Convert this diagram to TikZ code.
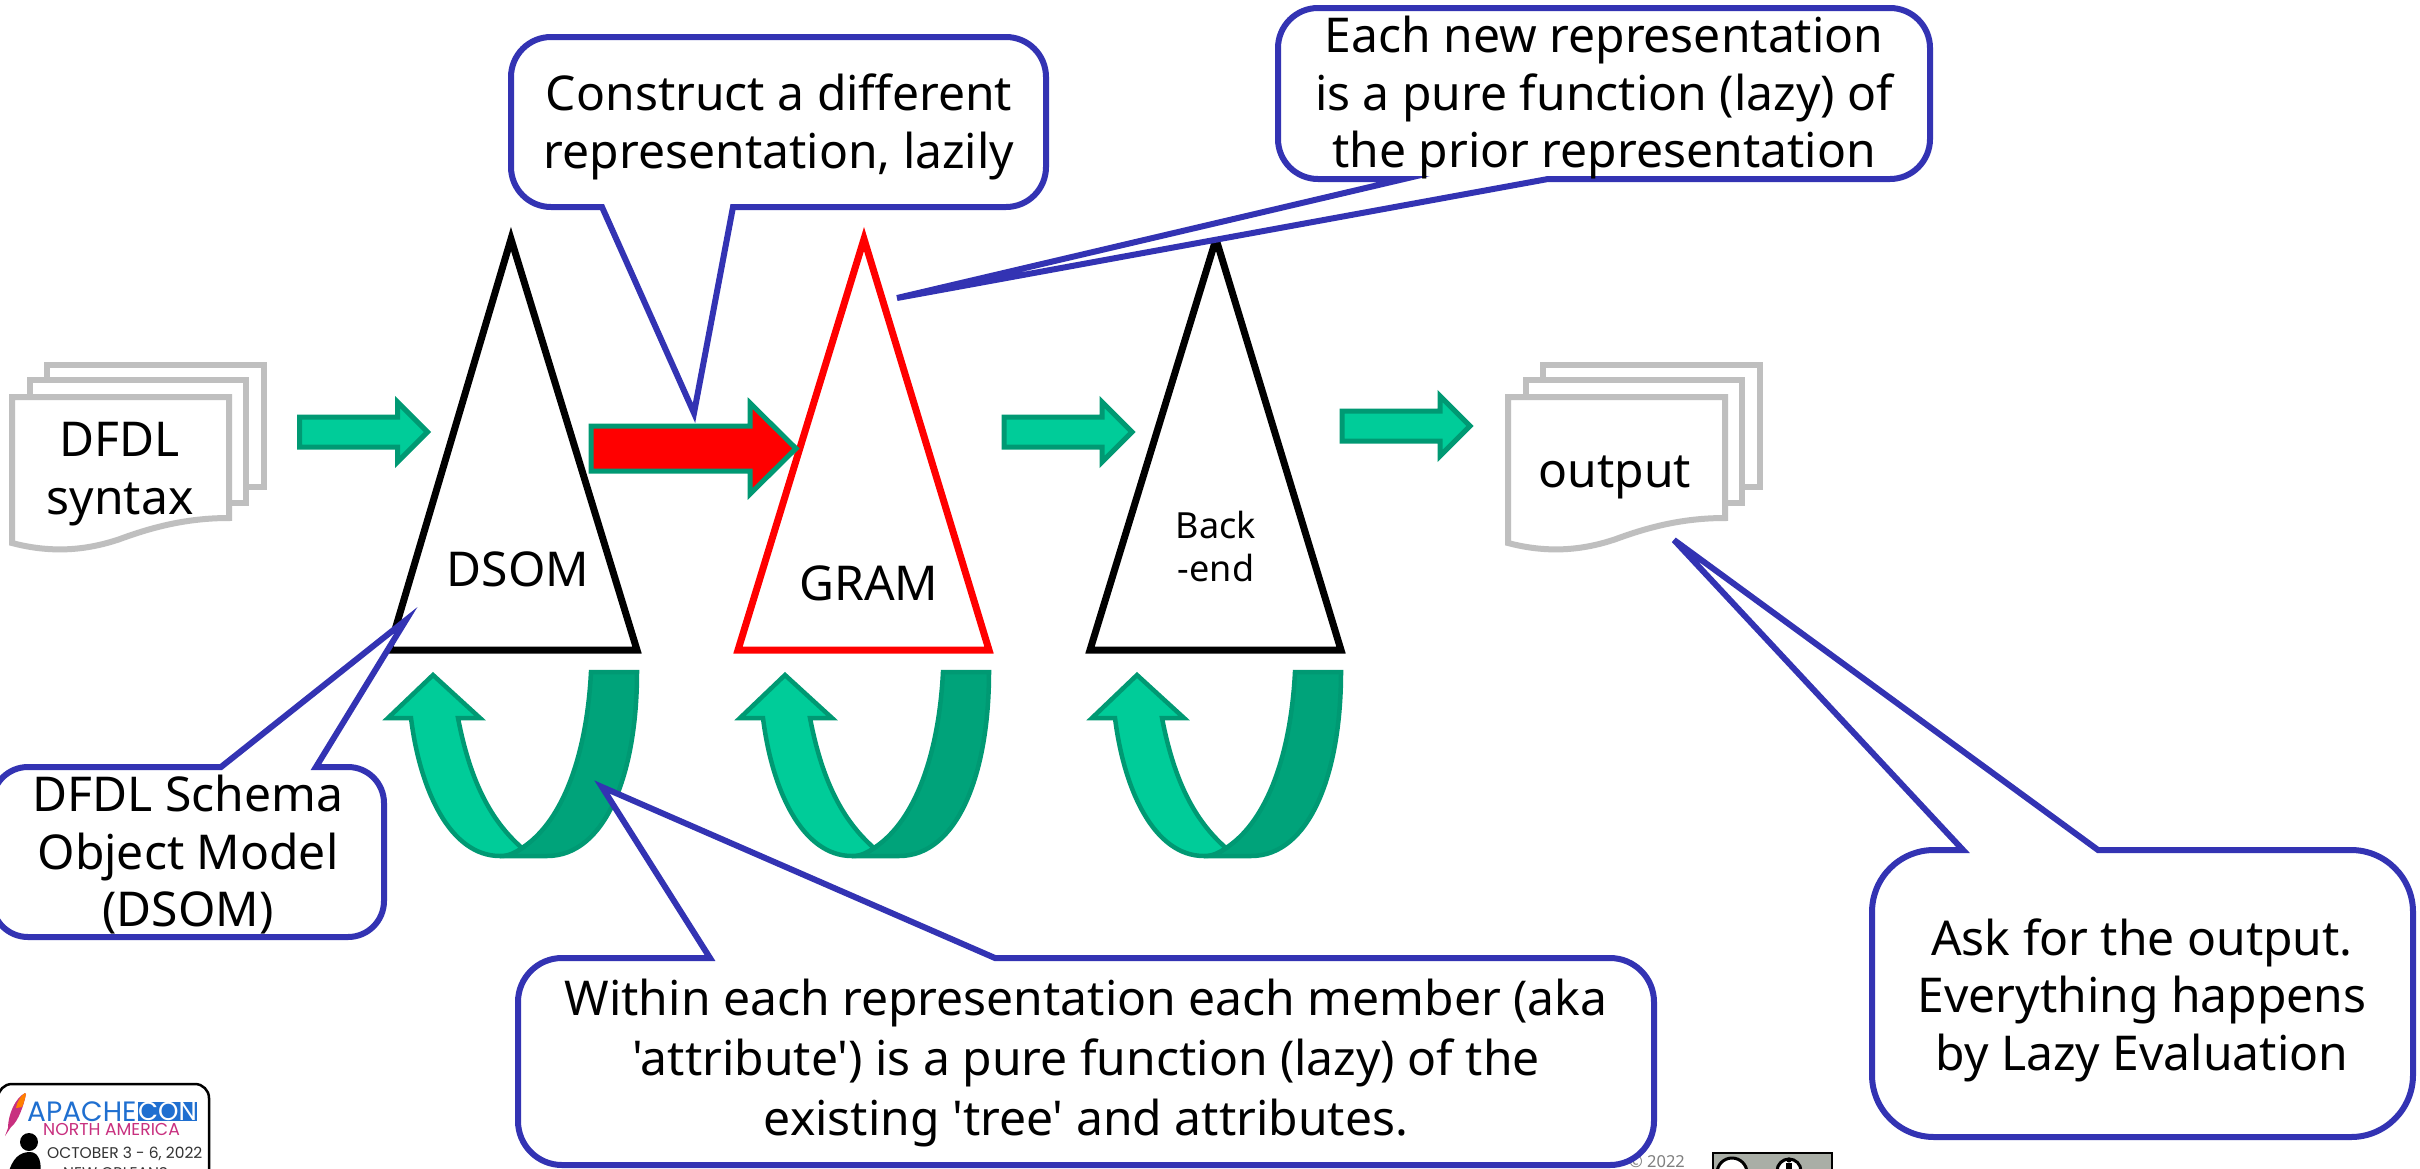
\documentclass[tikz,border=0pt]{standalone}
\usepackage{fontspec}
\setmainfont{Noto Sans}
\newfontfamily\plainfont{Noto Sans}
\newfontfamily\logofont{Poppins}
\definecolor{callblue}{HTML}{3333B3}
\definecolor{sheetgrey}{HTML}{BFBFBF}
\definecolor{lightgreen}{HTML}{00CC99}
\definecolor{darkgreen}{HTML}{00A37A}
\definecolor{edgegreen}{HTML}{009973}
\definecolor{logoblue}{HTML}{1F6FD0}
\definecolor{logopink}{HTML}{C8307F}
\definecolor{ccgrey}{HTML}{A9AEA6}
\tikzset{
  x=1pt,y=-1pt,
  callout/.style={draw=callblue,line width=6pt,fill=white,line join=miter},
  calltext/.style={inner sep=0pt,align=center,font=\plainfont\fontsize{48}{#1}\selectfont},
  tri/.style={line width=7pt,line join=miter,fill=white},
  flow/.style={fill=lightgreen,draw=edgegreen,line width=5pt,line join=miter},
  uturn/.style={draw=edgegreen,line width=4.5pt,line join=miter},
  sheet/.style={draw=sheetgrey,line width=6pt,fill=white,line join=miter},
  bigtext/.style={inner sep=0pt,align=center,font=\plainfont\fontsize{48}{57.5}\selectfont},
  smalltext/.style={inner sep=0pt,align=center,font=\plainfont\fontsize{36}{43}\selectfont},
}
\newcommand{\stack}[1]{%
  \begin{scope}[xshift=#1]
    \draw[sheet] (47,365) rectangle (264,487);
    \draw[sheet] (30,380) rectangle (246,503);
    \draw[sheet] (12,397) -- (229,397) -- (229,518)
      .. controls (185,518) and (150,528) .. (120,539)
      .. controls (85,551) and (50,553) .. (12,543) -- cycle;
  \end{scope}}
\newcommand{\flowarrow}[2]{%
  \draw[flow,#2] (#1) ++(-128,-15) -- ++(98,0) -- ++(0,-15) -- ++(30,30) -- ++(-30,30) -- ++(0,-15) -- ++(-98,0) -- cycle;}
\newcommand{\uarrow}[1]{%
  \begin{scope}[xshift=#1]
    \draw[uturn,fill=darkgreen] (591,672) -- (637,672)
      .. controls (637,775) and (605,856) .. (547,856) -- (500,856)
      .. controls (510,856) and (516,852) .. (522,848)
      .. controls (565,820) and (587,750) .. (591,672) -- cycle;
    \draw[uturn,fill=lightgreen] (433,675) -- (480,718) -- (458,718)
      .. controls (470,780) and (490,820) .. (522,848)
      .. controls (516,852) and (510,856) .. (500,856)
      .. controls (450,856) and (420,790) .. (411,718) -- (388,718) -- cycle;
  \end{scope}}
\begin{document}
\begin{tikzpicture}
\clip (0,0) rectangle (2420,1168);
\fill[white] (0,0) rectangle (2420,1168);

% copyright strip
\node[inner sep=0pt,text=gray,font=\plainfont\fontsize{16.5}{18}\selectfont] (year) at (1657,1162) {\copyright\ 2022};
\draw[black,line width=2pt,fill=ccgrey] (1713,1153) rectangle (1832,1190);
\draw[black,line width=3pt,fill=white] (1732,1173) circle (15);
\draw[black,line width=3pt,fill=white] (1789,1171) circle (12);
\fill[black] (1789,1160) circle (2.5);
\fill[black] (1786,1163) rectangle (1792,1172);

% logo
\draw[black,line width=2.5pt,fill=white,rounded corners=14] (-2,1084) rectangle (209,1200);
\fill[logopink] (25,1093) .. controls (15,1098) and (8,1115) .. (8,1128) -- (5,1136) -- (11,1127) .. controls (18,1122) and (24,1105) .. (26,1094) -- cycle;
\fill[orange] (25,1093) .. controls (21,1095) and (17,1102) .. (16,1108) -- (22,1107) .. controls (24,1103) and (25,1098) .. (26,1094) -- cycle;
\fill[logoblue] (138,1102) rectangle (197,1121);
\node[inner sep=0pt,anchor=base west,text=logoblue,text depth=0pt,font=\logofont\fontsize{28}{30}\selectfont] (apache) at (27,1121) {APACHE};
\node[inner sep=0pt,anchor=base,text=white,text depth=0pt,font=\logofont\fontsize{26}{28}\selectfont] (con) at (167.5,1120) {CON};
\node[inner sep=0pt,anchor=base west,text=logopink,text height=11pt,text depth=0pt,font=\logofont\fontsize{17.2}{18}\selectfont] (north) at (43,1135) {NORTH AMERICA};
\node[inner sep=0pt,anchor=base west,text=black!80,font=\logofont\fontsize{15.5}{18}\selectfont] (october) at (47,1158) {OCTOBER 3 - 6, 2022};
\node[inner sep=0pt,anchor=base west,text=black!80,font=\logofont\fontsize{15.5}{18}\selectfont] (neworleans) at (63,1178) {NEW ORLEANS};
\fill[black] (29,1142) circle (9);
\fill[black] (8,1175) .. controls (12,1158) and (20,1152) .. (30,1152) .. controls (40,1152) and (42,1165) .. (40,1175) -- cycle;

% document stacks
\stack{0pt}
\stack{1496pt}
\node[bigtext] (dfdl) at (120,474) {DFDL\\syntax};
\node[bigtext] (output) at (1615,477) {output};

% triangles
\draw[tri,draw=black] (511,239) -- (637,650) -- (389,650) -- cycle;
\draw[tri,draw=red]   (864,239) -- (989,650) -- (738,650) -- cycle;
\draw[tri,draw=black] (1216,239) -- (1341,650) -- (1090,650) -- cycle;
\node[bigtext] (dsom) at (518,569) {DSOM};
\node[bigtext] (gram) at (869,583) {GRAM};
\node[smalltext] (backend) at (1216,546) {Back\\-end};

% flow arrows
\coordinate (a1) at (427.5,432);
\coordinate (a3) at (1132,432);
\coordinate (a4) at (1470,426);
\flowarrow{a1}{}
\flowarrow{a3}{}
\flowarrow{a4}{}
\draw[flow,fill=red] (591,426) -- (750,426) -- (750,403) -- (796,448.5) -- (750,494) -- (750,471) -- (591,471) -- cycle;

% U arrows
\uarrow{0pt}
\uarrow{352pt}
\uarrow{704pt}

% callouts
\draw[callout] (733,207) [rounded corners=40] -- (1046,207) -- (1046,37) -- (511,37) -- (511,207) [sharp corners] -- (602,207) -- (694,413) -- cycle;
\draw[callout] (1548,179) [rounded corners=40] -- (1930,179) -- (1930,8) -- (1278,8) -- (1278,179) [sharp corners] -- (1404,179) -- (897,298) -- cycle;
\draw[callout] (316,767) [rounded corners=36] -- (384,767) -- (384,937) -- (-8,937) -- (-8,767) [sharp corners] -- (221,767) -- (406,620) -- cycle;
\draw[callout] (995,958) [rounded corners=44] -- (1654,958) -- (1654,1165) -- (518,1165) -- (518,958) [sharp corners] -- (710,958) -- (602,787) -- cycle;
\draw[callout] (2098,850) [rounded corners=62] -- (2413,850) -- (2413,1137) -- (1872,1137) -- (1872,850) [sharp corners] -- (1963,850) -- (1674,540) -- cycle;

\node[calltext=58] (t1) at (779,127) {Construct a different\\representation, lazily};
\node[calltext=57.5] (t2) at (1604,98) {Each new representation\\is a pure function (lazy) of\\the prior representation};
\node[calltext=57.5] (t3) at (188,855) {DFDL Schema\\Object Model\\(DSOM)};
\node[calltext=60] (t4) at (1086,1063) {Within each representation each member (aka\\'attribute') is a pure function (lazy) of the\\existing 'tree' and attributes.};
\node[calltext=57.5] (t5) at (2142,1000) {Ask for the output.\\Everything happens\\by Lazy Evaluation};
\end{tikzpicture}
\end{document}
